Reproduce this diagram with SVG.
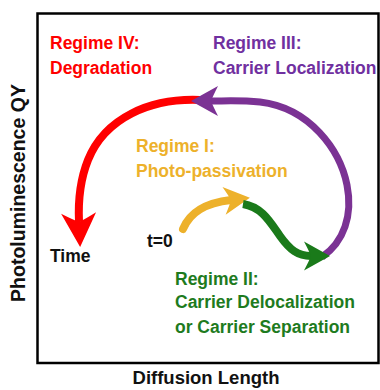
<svg xmlns="http://www.w3.org/2000/svg" width="380" height="390" viewBox="0 0 380 390">
<style>
text{font-family:"Liberation Sans",Arial,sans-serif;font-weight:bold;font-size:17.5px}
.red{fill:#FF0000}.pur{fill:#7030A0}.gold{fill:#EDB12B}.grn{fill:#1E7B1E}.blk{fill:#111}
.c{fill:none;stroke-linecap:butt}
</style>
<defs>
<marker id="mRed" markerUnits="userSpaceOnUse" viewBox="0 -18 34 36" markerWidth="34" markerHeight="36" refX="9" refY="0" orient="auto" overflow="visible"><path d="M34,0 L0,-17.5 Q7,-5 9,0 Q7,5 0,17.5 Z" fill="#FF0000"/></marker>
<marker id="mPur" markerUnits="userSpaceOnUse" viewBox="0 -15 27 30" markerWidth="27" markerHeight="30" refX="7" refY="0" orient="auto" overflow="visible"><path d="M27,0 L0,-15 Q5.5,-4 7,0 Q5.5,4 0,15 Z" fill="#7B3294"/></marker>
<marker id="mGold" markerUnits="userSpaceOnUse" viewBox="0 -14 26 28" markerWidth="26" markerHeight="28" refX="7" refY="0" orient="auto" overflow="visible"><path d="M26,0 L0,-14 Q5.5,-4 7,0 Q5.5,4 0,14 Z" fill="#EDB12B"/></marker>
<marker id="mGrn" markerUnits="userSpaceOnUse" viewBox="0 -14.5 26 29" markerWidth="26" markerHeight="29" refX="7" refY="0" orient="auto" overflow="visible"><path d="M26,0 L0,-14.5 Q5.5,-4 7,0 Q5.5,4 0,14.5 Z" fill="#1A7A1A"/></marker>
</defs>
<rect x="37.5" y="13.5" width="341" height="349.5" fill="none" stroke="#000" stroke-width="2.5"/>
<g id="connectors">
<path id="c-red" class="c" d="M200,100 C150,98 105,118 88,160 C80,180 78,200 79,222" stroke="#FF0000" stroke-width="8" marker-end="url(#mRed)"/>
<path id="c-purple" class="c" d="M322,257 C344,242 353,215 347,185 C340,150 310,108 260,102 C240,100 225,101 211,101" stroke="#7B3294" stroke-width="7" marker-end="url(#mPur)"/>
<path id="c-yellow" d="M183,229 C190,212 205,203 231,200" fill="none" stroke="#EDB12B" stroke-width="8" stroke-linecap="round" marker-end="url(#mGold)"/>
<path id="c-green" class="c" d="M243,204 C262,207 270,222 280,236 C290,250 298,256 311,256" stroke="#1A7A1A" stroke-width="8" marker-end="url(#mGrn)"/>
</g>
<g id="regime-iv"><text class="red" x="50" y="49">Regime IV:</text><text class="red" x="50" y="74">Degradation</text></g>
<g id="regime-iii"><text class="pur" x="213" y="49">Regime III:</text><text class="pur" x="213" y="74">Carrier Localization</text></g>
<g id="regime-i"><text class="gold" x="136" y="152">Regime I:</text><text class="gold" x="136" y="177">Photo-passivation</text></g>
<g id="t0"><text class="blk" x="147" y="247">t=0</text></g>
<g id="time"><text class="blk" x="50" y="262">Time</text></g>
<g id="regime-ii"><text class="grn" x="175" y="285">Regime II:</text><text class="grn" x="175" y="308">Carrier Delocalization</text><text class="grn" x="175" y="333">or Carrier Separation</text></g>
<g id="x-axis"><text class="blk" x="206" y="384" text-anchor="middle" style="font-size:18.5px">Diffusion Length</text></g>
<g id="y-axis"><text class="blk" transform="translate(25,193) rotate(-90)" x="0" y="0" text-anchor="middle" style="font-size:19.5px">Photoluminescence QY</text></g>
</svg>
